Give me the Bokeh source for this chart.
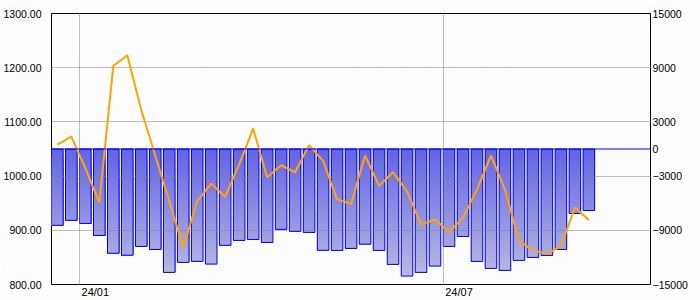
import numpy as np
import pandas as pd
from bokeh.plotting import figure
from bokeh.models import (Range1d, LinearAxis, FixedTicker, Span,
                          NumeralTickFormatter, DatetimeTickFormatter)
from bokeh.embed import file_html
from bokeh.resources import INLINE

# ---------------- data ----------------
week_dates = pd.date_range("2023-12-21", periods=39, freq="7D")
price = [1058, 1073, 1015, 951, 1203, 1223, 1122, 1038, 954, 868,
         954, 986, 962, 1021, 1088, 998, 1020, 1007, 1057, 1028,
         957, 949, 1038, 982, 1007, 972, 911, 920, 897, 923,
         975, 1038, 975, 881, 863, 856, 871, 942, 919]
volume = [-8450, -7900, -8240, -9570, -11540, -11760, -10785, -11117, -13660, -12550,
          -12440, -12740, -10660, -10120, -10010, -10343, -8890, -9110, -9238, -11210,
          -11227, -11006, -10531, -11227, -12774, -14067, -13659, -12962, -10785, -9680,
          -12443, -13216, -13437, -12332, -12000, -11781, -11117, -7138, -6807]
tick_dates = ["2024-01-01", "2024-07-01"]
tick_labels = ["24/01", "24/07"]
left_ticks = [800, 900, 1000, 1100, 1200, 1300]
right_ticks = [-15000, -9000, -3000, 0, 3000, 9000, 15000]

DAY = 86400000.0
FONT = "Liberation Sans"
BG = "#FCFDFC"

x_ms = np.array([d.timestamp() * 1000.0 for d in week_dates])
x_start = pd.Timestamp("2023-12-18 02:00").timestamp() * 1000.0
x_end = pd.Timestamp("2024-10-12 20:00").timestamp() * 1000.0

p = figure(width=700, height=300, x_axis_type="datetime",
           x_range=Range1d(x_start, x_end), y_range=Range1d(800, 1300),
           output_backend="svg", toolbar_location=None,
           min_border_left=50, min_border_right=50,
           min_border_top=13, min_border_bottom=14,
           background_fill_color=BG, border_fill_color=BG)
p.outline_line_color = "black"
p.outline_line_width = 1
p.extra_y_ranges = {"vol": Range1d(-15000, 15000)}

# ---------- gradient bars (volume, right axis) ----------
bar_w = 5.8 * DAY
edges = np.arange(0, -15001, -250)
c_top = np.array([100, 100, 232])
c_bot = np.array([192, 192, 222])
L, R, T, B, C = [], [], [], [], []
for i, v in enumerate(volume):
    for j in range(len(edges) - 1):
        t = edges[j]
        if t <= v:
            break
        f = (j + 0.5) / (len(edges) - 1)
        rgb = (c_top + (c_bot - c_top) * f).astype(int)
        L.append(x_ms[i] - bar_w / 2)
        R.append(x_ms[i] + bar_w / 2)
        T.append(t)
        B.append(v)
        C.append("#%02x%02x%02x" % tuple(rgb))
p.quad(left=L, right=R, top=T, bottom=B, fill_color=C, line_color=None,
       y_range_name="vol")
p.vbar(x=x_ms, top=0, bottom=volume, width=bar_w, fill_color=None,
       line_color="#0000EE", line_width=1, y_range_name="vol")

p.add_layout(Span(location=0, dimension="width", line_color="#0000FF",
                  line_width=1, y_range_name="vol"))

# ---------- price line (left axis) ----------
p.line(x=x_ms, y=price, line_color="#FFA500", line_width=2, level="annotation")

# ---------- axes ----------
grid_ms = [pd.Timestamp(d).timestamp() * 1000.0 for d in tick_dates]
label_ms = [g + 8 * DAY for g in grid_ms]

xa = p.xaxis[0]
xa.ticker = FixedTicker(ticks=label_ms)
xa.formatter = DatetimeTickFormatter(days="%y/%m", months="%y/%m", years="%y/%m",
                                     hours="%y/%m", minutes="%y/%m")
xa.major_label_overrides = {m: s for m, s in zip(label_ms, tick_labels)}
xa.major_label_standoff = 1
xa.major_label_text_font_size = "11px"

ya = p.yaxis[0]
ya.ticker = FixedTicker(ticks=left_ticks)
ya.formatter = NumeralTickFormatter(format="0.00")
ya.major_label_standoff = 10
ya.major_label_text_font_size = "10.5px"

ra = LinearAxis(y_range_name="vol", ticker=FixedTicker(ticks=right_ticks))
ra.major_label_standoff = 2
ra.major_label_text_font_size = "10.5px"
p.add_layout(ra, "right")

for ax in [xa, ya, ra]:
    ax.axis_line_color = None
    ax.major_tick_line_color = None
    ax.minor_tick_line_color = None
    ax.major_tick_out = 0
    ax.major_tick_in = 0
    ax.minor_tick_out = 0
    ax.minor_tick_in = 0
    ax.major_label_text_font = FONT
    ax.major_label_text_color = "black"

p.xgrid.ticker = FixedTicker(ticks=grid_ms)
p.ygrid.ticker = FixedTicker(ticks=[900, 1000, 1100, 1200])
for g in [p.xgrid[0], p.ygrid[0]]:
    g.grid_line_color = "#808080"
    g.grid_line_dash = "1 1"
    g.grid_line_width = 1
    g.level = "guide"

open("out.html", "w").write(file_html(p, INLINE))
